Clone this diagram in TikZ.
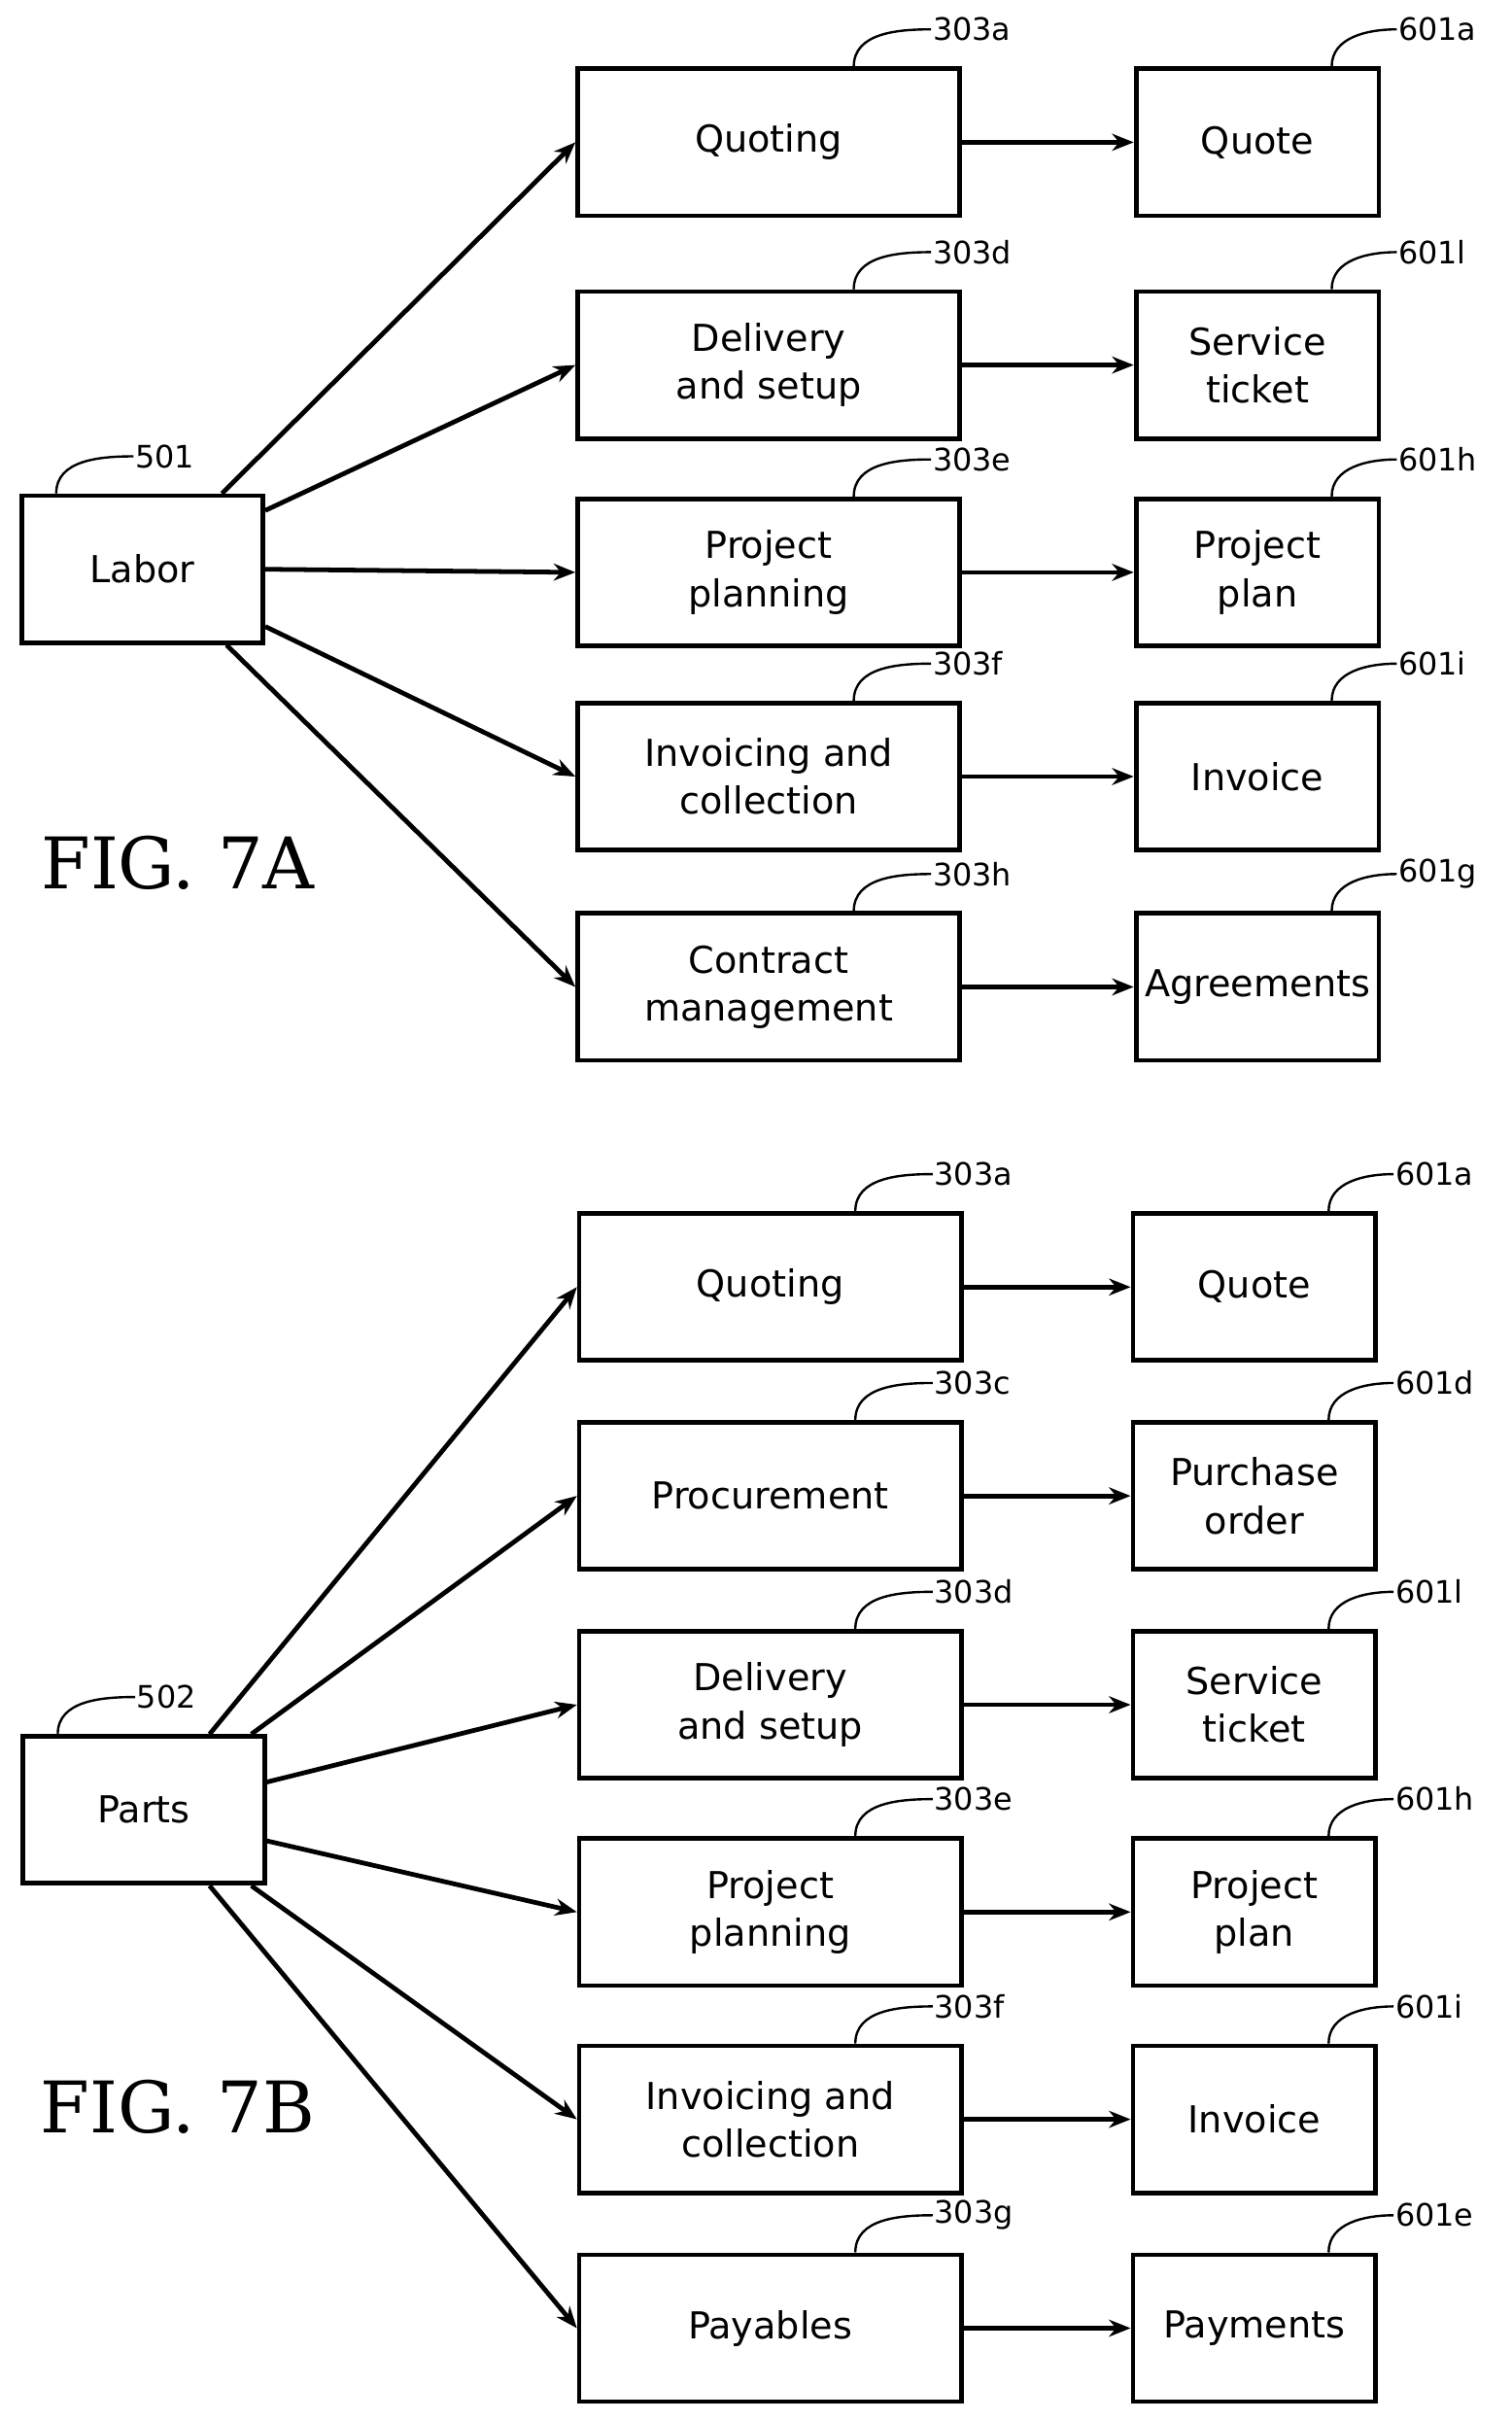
\documentclass[tikz,border=0pt]{standalone}
\usepackage{fontspec}
\setmainfont{DejaVu Sans}
\newfontfamily\figfont{DejaVu Serif}
\usetikzlibrary{arrows.meta}
\usetikzlibrary{calc}
\tikzset{
    block/.style={
           rectangle,
           draw=black, line width=3pt,
           minimum height=95pt,
           inner sep=2pt,
           align=center,
           font=\fontsize{24}{31}\selectfont,
           },
     mid/.style={block, minimum width=247pt},
     res/.style={block, minimum width=157pt},
     src/.style={block, minimum width=156pt},
     tag/.style={
           anchor=west,
           inner sep=1pt,
           font=\fontsize{20}{22}\selectfont,
           },
     lead/.style={line width=1.5pt},
     flow/.style={-{Stealth[length=14pt,width=11pt]}, line width=3pt},
}
\newcommand{\tagbox}[4]{% node, fraction, label offset, text
  \coordinate (#1-c) at ($(#1.north west)!#2!(#1.north east)$);
  \node[tag] (#1-t) at ($(#1-c)+(#3,24)$) {#4};
  \draw[lead] (#1-c) to[out=90,in=180] (#1-t.west);
}
\begin{document}
\begin{tikzpicture}[x=1pt,y=1pt]
	\useasboundingbox (0,0) rectangle (977,1565);

	% FIG. 7A
	\node[src] (labor) at (92,1197) {Labor};
	\foreach \n/\y/\a/\b/\ta/\tb in {
		a/1473/Quoting/Quote/303a/601a,
		b/1329/{Delivery\\and setup}/{Service\\ticket}/303d/601l,
		c/1195/{Project\\planning}/{Project\\plan}/303e/601h,
		d/1063/{Invoicing and\\collection}/Invoice/303f/601i,
		e/927/{Contract\\management}/Agreements/303h/601g}{
		\node[mid] (p\n) at (497,\y) {\a};
		\node[res] (r\n) at (813,\y) {\b};
		\draw[flow] (p\n) -- (r\n);
		\tagbox{p\n}{0.72}{50}{\ta}
		\tagbox{r\n}{0.8}{42}{\tb}
	}
	\tagbox{labor}{0.15}{50}{501}
	\draw[flow] ($(labor.north east)+(-28,0)$) -- (pa.west);
	\draw[flow] ($(labor.east)+(0,38)$) -- (pb.west);
	\draw[flow] (labor.east) -- (pc.west);
	\draw[flow] ($(labor.east)+(0,-37)$) -- (pd.west);
	\draw[flow] ($(labor.south east)+(-25,0)$) -- (pe.west);
	\node[font=\figfont\fontsize{46}{50}\selectfont] (figa) at (115,1007) {FIG. 7A};

	% FIG. 7B
	\node[src] (parts) at (93,395) {Parts};
	\foreach \n/\y/\a/\b/\ta/\tb in {
		a/733/Quoting/Quote/303a/601a,
		b/598/Procurement/{Purchase\\order}/303c/601d,
		c/463/{Delivery\\and setup}/{Service\\ticket}/303d/601l,
		d/329/{Project\\planning}/{Project\\plan}/303e/601h,
		e/195/{Invoicing and\\collection}/Invoice/303f/601i,
		f/60/Payables/Payments/303g/601e}{
		\node[mid] (q\n) at (498,\y) {\a};
		\node[res] (s\n) at (811,\y) {\b};
		\draw[flow] (q\n) -- (s\n);
		\tagbox{q\n}{0.72}{50}{\ta}
		\tagbox{s\n}{0.8}{42}{\tb}
	}
	\tagbox{parts}{0.15}{50}{502}
	\draw[flow] ($(parts.north east)+(-37,0)$) -- (qa.west);
	\draw[flow] ($(parts.north east)+(-10,0)$) -- (qb.west);
	\draw[flow] ($(parts.east)+(0,18)$) -- (qc.west);
	\draw[flow] ($(parts.east)+(0,-20)$) -- (qd.west);
	\draw[flow] ($(parts.south east)+(-10,0)$) -- (qe.west);
	\draw[flow] ($(parts.south east)+(-37,0)$) -- (qf.west);
	\node[font=\figfont\fontsize{46}{50}\selectfont] (figb) at (115,203) {FIG. 7B};
\end{tikzpicture}
\end{document}
